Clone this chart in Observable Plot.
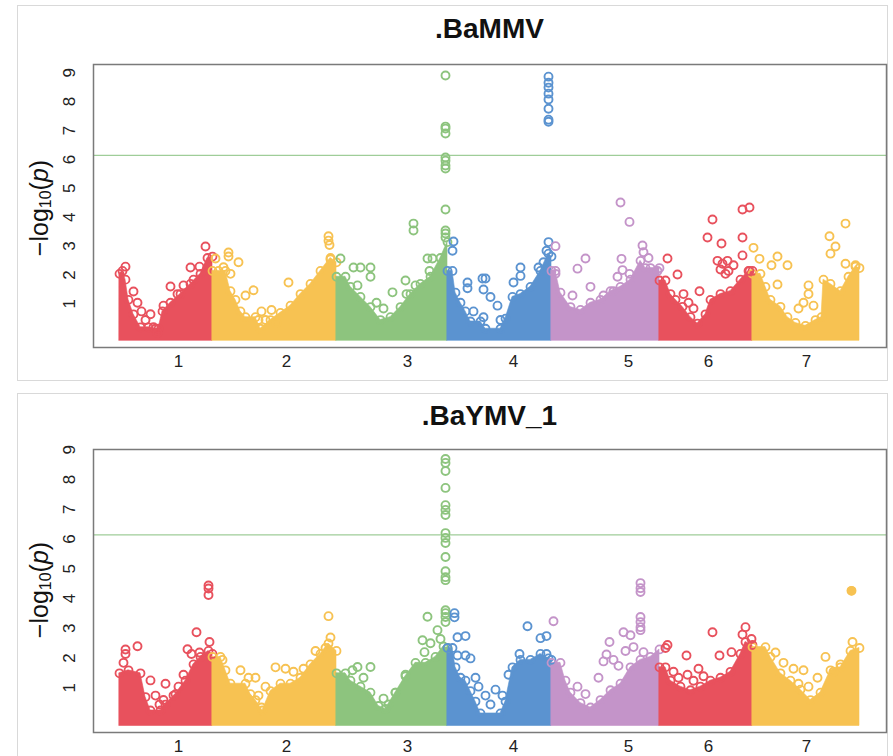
<!DOCTYPE html>
<html>
<head>
<meta charset="utf-8">
<script src="https://cdn.jsdelivr.net/npm/d3@7"></script>
<script src="https://cdn.jsdelivr.net/npm/@observablehq/plot@0.6"></script>
<style>
  html, body { margin: 0; padding: 0; background: #fff; overflow: hidden; }
  body { width: 893px; height: 756px; position: relative; font-family: "Liberation Sans", Arial, sans-serif; }
  .panel { position: absolute; left: 17px; width: 869px; border: 1px solid #d9d9d9; background: #fff; }
  .title { position: absolute; left: 93px; width: 793px; text-align: center; font-weight: bold; font-size: 28px; color: #111; line-height: 1; }
  .ylab { position: absolute; width: 160px; height: 30px; line-height: 30px; text-align: center; font-size: 25px; color: #111; transform: rotate(-90deg); }
  .ylab sub { font-size: 16px; vertical-align: -3px; }
  .chart { position: absolute; left: 17px; }
</style>
</head>
<body>
<div class="panel" style="top:5px;height:374px;"></div>
<div class="panel" style="top:393px;height:400px;"></div>
<div class="title" style="top:15px;">.BaMMV</div>
<div class="title" style="top:402px;">.BaYMV_1</div>
<div class="ylab" style="left:-41px;top:193px;">−log<sub>10</sub>(<i>p</i>)</div>
<div class="ylab" style="left:-41px;top:575px;">−log<sub>10</sub>(<i>p</i>)</div>
<div class="chart" id="c1" style="top:5px;"></div>
<div class="chart" id="c2" style="top:393px;"></div>
<script>
// ---- categories and scales data ----
const chromosomes = ["1", "2", "3", "4", "5", "6", "7"];
const chromColors = ["#e8515d", "#f7c252", "#8dc47e", "#5b93d0", "#c494c9", "#e8515d", "#f7c252"];
// cumulative genome position of the chromosome labels (same units as the data)
const tickPositions = [85, 193, 314, 420, 535, 615, 713];
const yTicks = [1, 2, 3, 4, 5, 6, 7, 8, 9];
const threshold = 6.3;

// ---- .BaMMV: upper edge of the dense SNP cloud [chr, position, -log10 p] ----
const bammvDense = [
  [1,26,2.2],[1,29,2.3],[1,32,2.0],[1,35,1.3],[1,40,0.8],[1,47,0.35],[1,55,0.35],[1,62,0.3],[1,65,0.3],[1,69,0.9],[1,77,1.2],[1,87,1.5],[1,97,1.85],[1,107,2.2],[1,114,2.75],[1,119,2.8],
  [2,119,2.3],[2,125,2.3],[2,132,2.3],[2,137,1.6],[2,142,1.3],[2,147,0.9],[2,152,0.7],[2,162,0.7],[2,167,0.3],[2,177,0.6],[2,187,0.85],[2,197,1.1],[2,207,1.5],[2,217,1.85],[2,227,2.3],[2,237,2.75],[2,243,2.6],
  [3,243,2.1],[3,252,2.1],[3,257,1.75],[3,267,1.4],[3,277,1.05],[3,287,0.6],[3,297,0.7],[3,307,1.05],[3,317,1.5],[3,327,1.85],[3,337,2.1],[3,347,2.75],[3,354,3.3],
  [4,354,2.3],[4,359,2.3],[4,362,1.55],[4,367,1.2],[4,372,0.9],[4,377,0.55],[4,387,0.55],[4,392,0.3],[4,407,0.3],[4,412,0.65],[4,419,1.4],[4,427,1.5],[4,437,1.75],[4,447,2.3],[4,455,2.9],[4,458,2.8],
  [5,458,2.3],[5,462,2.3],[5,467,1.55],[5,477,1.05],[5,487,0.95],[5,497,1.2],[5,507,1.3],[5,517,1.6],[5,527,1.75],[5,537,2.0],[5,547,2.65],[5,552,2.4],[5,557,2.4],[5,566,2.4],
  [6,566,1.97],[6,572,1.97],[6,577,1.5],[6,582,1.3],[6,589,1.06],[6,597,0.7],[6,604,0.48],[6,612,0.8],[6,617,1.3],[6,627,1.5],[6,637,1.6],[6,647,2.0],[6,655,2.3],[6,659,2.3],
  [7,659,2.2],[7,667,2.2],[7,672,1.75],[7,677,1.3],[7,687,1.06],[7,694,0.7],[7,702,0.5],[7,712,0.4],[7,722,0.6],[7,728,0.7],[7,730,2.0],[7,737,1.85],[7,747,1.6],[7,755,2.1],[7,762,2.45],[7,766,2.4]
];
// ---- .BaMMV: individual SNPs standing out of the cloud ----
const bammvPoints = [
  [1,112,3.15],[1,32,2.45],[1,40,1.59],[1,44,1.2],[1,48,0.9],[1,52,0.6],[1,57,0.8],[1,60,0.35],[1,64,0.15],[1,77,1.76],[1,90,1.8],[1,97,2.42],[1,106,2.45],[1,100,2.0],[1,84,1.5],[1,70,1.1],
  [2,122,2.73],[2,135,2.94],[2,135,2.8],[2,145,2.6],[2,130,2.43],[2,137,2.2],[2,160,1.63],[2,152,1.45],[2,195,1.9],[2,235,3.5],[2,235,3.35],[2,236,3.2],[2,237,2.7],[2,168,0.9],[2,172,0.6],[2,178,0.95],[2,183,0.5],[2,165,0.6],
  [3,352,9.07],[3,352,7.3],[3,352,7.23],[3,352,7.06],[3,352,6.23],[3,352,6.12],[3,352,5.95],[3,352,5.85],[3,352,4.43],[3,352,3.7],[3,352,3.6],[3,352,3.46],
  [3,247,2.73],[3,260,2.42],[3,267,2.42],[3,277,2.42],[3,277,2.1],[3,264,1.8],[3,299,1.56],[3,312,1.97],[3,313,1.5],[3,320,3.94],[3,320,3.7],[3,334,2.73],[3,339,2.73],[3,336,2.3],[3,322,1.8],[3,290,1.0],[3,283,1.2],
  [4,455,9.03],[4,455,8.82],[4,455,8.65],[4,455,8.44],[4,455,8.24],[4,455,7.92],[4,455,7.54],[4,455,7.47],
  [4,360,3.32],[4,359,3.0],[4,374,1.9],[4,374,1.7],[4,389,2.04],[4,392,2.04],[4,390,1.66],[4,397,1.4],[4,380,0.9],[4,404,1.1],[4,407,0.6],[4,390,0.7],[4,427,2.42],[4,427,2.13],[4,420,1.9],[4,445,2.42],[4,453,3.0],[4,455,3.3],[4,450,2.6],
  [5,462,3.16],[5,462,2.2],[5,492,2.73],[5,484,2.38],[5,479,1.45],[5,497,1.75],[5,527,4.67],[5,536,4.0],[5,528,2.72],[5,529,2.33],[5,524,2.1],[5,536,2.2],[5,549,3.18],[5,550,2.95],[5,555,2.75],[5,564,2.3],[5,520,1.6],[5,510,1.45],
  [6,649,4.43],[6,656,4.5],[6,619,4.08],[6,614,3.46],[6,628,3.25],[6,649,3.46],[6,649,2.84],[6,574,2.73],[6,584,2.18],[6,624,2.65],[6,629,2.55],[6,634,2.65],[6,640,2.5],[6,627,2.35],[6,635,2.3],[6,632,2.2],[6,656,2.3],[6,606,1.6],[6,595,1.2],[6,600,1.0],[6,590,1.5],
  [7,752,3.94],[7,736,3.5],[7,742,3.15],[7,737,2.9],[7,660,3.1],[7,666,2.72],[7,684,2.8],[7,678,2.5],[7,694,2.5],[7,684,1.83],[7,715,1.8],[7,715,1.5],[7,762,2.5],[7,752,2.55],[7,705,1.0],[7,710,1.2],[7,720,1.1]
];

// ---- .BaYMV_1: upper edge of the dense SNP cloud ----
const baymvDense = [
  [1,26,1.65],[1,35,1.75],[1,47,1.65],[1,52,0.85],[1,57,0.4],[1,67,0.4],[1,72,0.6],[1,82,0.95],[1,92,1.4],[1,100,1.95],[1,107,2.2],[1,115,2.4],[1,119,2.3],
  [2,119,2.2],[2,127,2.2],[2,132,1.75],[2,137,1.3],[2,152,1.3],[2,157,0.95],[2,162,0.75],[2,169,0.4],[2,177,1.05],[2,187,1.3],[2,197,1.3],[2,207,1.5],[2,217,1.95],[2,227,2.3],[2,235,2.65],[2,243,2.4],
  [3,243,1.65],[3,252,1.65],[3,257,1.4],[3,267,1.2],[3,277,1.0],[3,285,0.55],[3,292,0.45],[3,302,1.0],[3,312,1.55],[3,322,2.0],[3,332,2.0],[3,342,2.2],[3,350,2.55],[3,354,2.5],
  [4,354,2.5],[4,359,2.5],[4,362,1.85],[4,367,1.5],[4,372,1.4],[4,377,1.05],[4,382,0.7],[4,387,0.3],[4,407,0.3],[4,412,0.7],[4,419,1.85],[4,427,2.1],[4,437,2.1],[4,447,2.3],[4,455,2.15],[4,458,2.1],
  [5,458,2.0],[5,467,2.0],[5,472,1.4],[5,477,1.0],[5,487,0.65],[5,497,0.5],[5,507,0.75],[5,517,1.08],[5,527,1.3],[5,537,1.85],[5,547,2.1],[5,557,2.2],[5,566,2.45],
  [6,566,1.85],[6,572,1.85],[6,577,1.4],[6,587,1.2],[6,597,1.08],[6,607,1.2],[6,617,1.4],[6,627,1.5],[6,637,1.7],[6,647,2.3],[6,652,2.7],[6,659,2.6],
  [7,659,2.53],[7,672,2.53],[7,677,2.2],[7,687,1.65],[7,697,1.4],[7,707,1.1],[7,717,0.75],[7,727,1.0],[7,737,1.75],[7,747,1.85],[7,757,2.4],[7,766,2.5]
];
// ---- .BaYMV_1: individual SNPs standing out of the cloud ----
const baymvPoints = [
  [1,115,4.6],[1,115,4.5],[1,115,4.28],[1,103,3.03],[1,94,2.46],[1,116,2.7],[1,44,2.56],[1,32,2.45],[1,32,2.3],[1,57,1.41],[1,72,1.3],[1,70,0.75],[1,30,2.0],[1,62,0.9],[1,66,0.6],[1,85,1.2],[1,90,1.6],[1,98,2.3],[1,106,2.35],[1,80,0.9],
  [2,235,3.57],[2,237,2.85],[2,232,2.5],[2,182,1.85],[2,192,1.8],[2,147,1.75],[2,129,2.1],[2,162,1.5],[2,172,1.2],[2,155,1.5],[2,200,1.7],[2,210,1.8],[2,222,2.4],[2,165,0.9],[2,168,0.5],
  [3,352,8.85],[3,352,8.72],[3,352,8.45],[3,352,7.88],[3,352,7.3],[3,352,7.14],[3,352,6.97],[3,352,6.36],[3,352,6.2],[3,352,6.03],[3,352,5.56],[3,352,5.08],[3,352,4.88],[3,352,4.78],[3,352,3.77],[3,352,3.67],[3,352,3.54],[3,352,3.37],
  [3,334,3.55],[3,344,3.1],[3,329,2.76],[3,337,2.66],[3,331,2.36],[3,347,2.8],[3,259,1.75],[3,264,1.86],[3,277,1.86],[3,302,1.0],[3,312,1.6],[3,270,1.5],[3,290,0.8],[3,295,0.6],
  [4,361,3.67],[4,361,3.53],[4,364,2.86],[4,372,2.9],[4,364,2.25],[4,372,2.25],[4,434,3.23],[4,447,2.83],[4,453,2.9],[4,426,2.3],[4,453,2.3],[4,377,2.15],[4,382,1.5],[4,392,0.9],[4,402,1.1],[4,409,0.9],[4,385,1.2],[4,397,0.6],[4,415,1.6],
  [5,547,4.68],[5,547,4.51],[5,547,4.38],[5,547,3.54],[5,547,3.37],[5,547,3.2],[5,547,3.1],[5,530,3.03],[5,537,2.93],[5,540,2.53],[5,532,2.4],[5,550,2.36],[5,516,2.7],[5,520,2.1],[5,510,2.05],[5,513,2.28],[5,460,3.4],[5,484,1.2],[5,492,0.95],[5,525,1.9],[5,505,1.5],
  [6,652,3.2],[6,649,2.95],[6,658,2.8],[6,619,3.03],[6,574,2.6],[6,572,2.5],[6,593,2.25],[6,638,2.36],[6,626,2.25],[6,605,1.8],[6,610,1.55],[6,594,1.6],[6,580,1.7],[6,585,1.5],[6,600,1.4],
  [7,758,4.42],[7,759,2.7],[7,732,2.2],[7,747,1.95],[7,682,2.35],[7,700,1.8],[7,710,1.75],[7,724,1.5],[7,690,2.0],[7,740,1.7],[7,715,1.2],[7,705,1.3]
];
const baymvFilled = [[7,758,4.42]];

const toRows = arr => arr.map(([chr, pos, value]) => ({chr: String(chr), pos, value}));

function manhattan({dense, points, filled = [], height, marginTop, marginBottom, yDomain, labelDy}) {
  const d = toRows(dense), p = toRows(points), f = toRows(filled);
  return Plot.plot({
    width: 871,
    height,
    marginLeft: 76,
    marginRight: 2,
    marginTop,
    marginBottom,
    x: {domain: [0, 793], axis: null},
    y: {domain: yDomain, axis: null},
    color: {domain: chromosomes, range: chromColors},
    style: {fontFamily: "'Liberation Sans', Arial, sans-serif", background: "transparent", overflow: "visible"},
    marks: [
      Plot.ruleY([threshold], {stroke: "#9fcd99", strokeWidth: 1.3}),
      Plot.areaY(d, {x: "pos", y1: () => -0.12, y2: "value", z: "chr", fill: "chr", stroke: "chr", strokeWidth: 0.6}),
      Plot.dot(d, {x: "pos", y: "value", stroke: "chr", r: 4, strokeWidth: 1.8}),
      Plot.dot(p, {x: "pos", y: "value", stroke: "chr", r: 4, strokeWidth: 1.9}),
      Plot.dot(f, {x: "pos", y: "value", fill: "chr", r: 4.6}),
      Plot.frame({stroke: "#7a7a7a", strokeWidth: 1.5}),
      Plot.text(yTicks, {y: v => v, text: v => String(v), frameAnchor: "left", dx: -24, rotate: -90, fontSize: 17, fill: "#222"}),
      Plot.text(tickPositions, {x: v => v, text: (v, i) => chromosomes[i], frameAnchor: "bottom", dy: labelDy, fontSize: 17, fill: "#222"})
    ]
  });
}

document.getElementById("c1").appendChild(manhattan({
  dense: bammvDense, points: bammvPoints, height: 375, marginTop: 59, marginBottom: 33,
  yDomain: [-0.35, 9.45], labelDy: 19
}));
document.getElementById("c2").appendChild(manhattan({
  dense: baymvDense, points: baymvPoints, filled: baymvFilled, height: 377, marginTop: 56, marginBottom: 38,
  yDomain: [-0.34, 9.17], labelDy: 19
}));
</script>
</body>
</html>
